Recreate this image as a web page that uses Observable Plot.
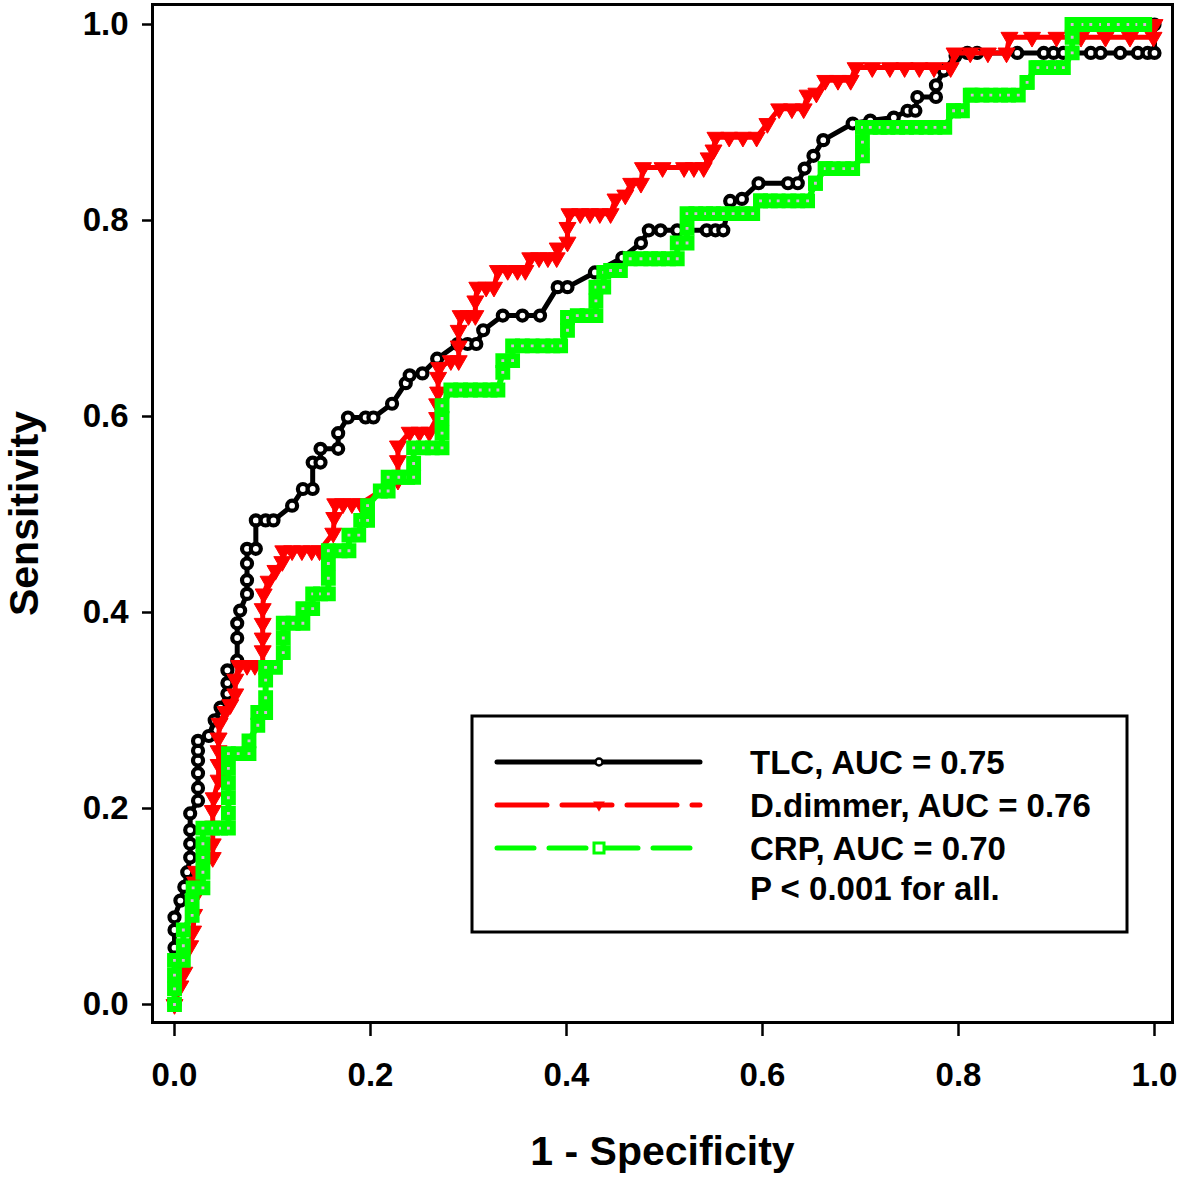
<!DOCTYPE html>
<html><head><meta charset="utf-8">
<script src="https://cdn.jsdelivr.net/npm/d3@7"></script>
<script src="https://cdn.jsdelivr.net/npm/@observablehq/plot@0.6"></script>
<style>
body{margin:0;background:#fff;}
#wrap{position:relative;width:1180px;height:1178px;font-family:"Liberation Sans",Arial,sans-serif;}
#legend{position:absolute;left:0;top:0;}
</style></head><body><div id="wrap"></div>
<script>
// TLC (black, circles)
const tlcFpr = [0,0,0,0,0.006,0.010,0.013,0.016,0.016,0.016,0.016,0.024,0.024,0.024,0.024,0.024,0.024,0.035,0.041,0.047,0.054,0.054,0.054,0.064,0.064,0.064,0.067,0.074,0.074,0.074,0.074,0.083,0.083,0.093,0.101,0.120,0.131,0.141,0.141,0.149,0.149,0.167,0.167,0.177,0.195,0.203,0.222,0.236,0.240,0.253,0.268,0.289,0.299,0.308,0.315,0.335,0.355,0.373,0.391,0.401,0.429,0.457,0.476,0.484,0.496,0.513,0.543,0.552,0.560,0.567,0.579,0.596,0.626,0.636,0.643,0.652,0.662,0.692,0.710,0.734,0.748,0.756,0.758,0.777,0.777,0.785,0.797,0.809,0.819,0.860,0.887,0.897,0.907,0.935,0.945,0.965,0.983,0.993,1.0,1.0];
const tlcSens = [0,0.058,0.076,0.089,0.106,0.120,0.135,0.150,0.164,0.178,0.195,0.208,0.221,0.236,0.249,0.259,0.269,0.274,0.290,0.303,0.317,0.328,0.341,0.351,0.374,0.389,0.402,0.419,0.433,0.450,0.465,0.465,0.494,0.494,0.494,0.509,0.526,0.526,0.553,0.553,0.567,0.567,0.583,0.599,0.599,0.599,0.613,0.634,0.642,0.644,0.659,0.674,0.674,0.674,0.688,0.703,0.703,0.703,0.732,0.732,0.747,0.762,0.777,0.790,0.790,0.790,0.790,0.790,0.790,0.820,0.822,0.838,0.838,0.838,0.853,0.866,0.882,0.899,0.902,0.905,0.912,0.912,0.926,0.926,0.938,0.953,0.968,0.971,0.971,0.971,0.971,0.971,0.971,0.971,0.971,0.971,0.971,0.971,0.971,1.0];

// D.dimmer (red, down triangles)
const ddFpr = [0,0.006,0.010,0.016,0.019,0.020,0.021,0.021,0.022,0.039,0.039,0.039,0.039,0.040,0.045,0.045,0.045,0.045,0.046,0.052,0.057,0.062,0.062,0.066,0.074,0.082,0.090,0.090,0.090,0.090,0.090,0.091,0.096,0.103,0.110,0.111,0.120,0.130,0.140,0.148,0.162,0.163,0.164,0.172,0.181,0.190,0.228,0.228,0.228,0.240,0.250,0.260,0.268,0.268,0.269,0.269,0.270,0.282,0.290,0.290,0.290,0.292,0.300,0.307,0.307,0.309,0.318,0.326,0.330,0.340,0.350,0.358,0.363,0.372,0.381,0.390,0.391,0.401,0.401,0.403,0.414,0.424,0.434,0.445,0.450,0.460,0.466,0.476,0.478,0.498,0.520,0.530,0.540,0.545,0.550,0.552,0.566,0.580,0.594,0.605,0.617,0.630,0.642,0.646,0.655,0.664,0.677,0.690,0.695,0.712,0.730,0.745,0.760,0.775,0.792,0.796,0.812,0.830,0.849,0.852,0.875,0.900,0.925,0.950,0.975,0.999,1.0];
const ddSens = [0,0.019,0.033,0.060,0.075,0.092,0.110,0.125,0.136,0.150,0.164,0.182,0.198,0.211,0.229,0.245,0.259,0.272,0.287,0.299,0.306,0.317,0.332,0.346,0.346,0.346,0.346,0.361,0.374,0.389,0.404,0.419,0.432,0.443,0.452,0.463,0.463,0.463,0.463,0.463,0.481,0.497,0.511,0.511,0.511,0.511,0.535,0.555,0.570,0.584,0.584,0.584,0.599,0.613,0.625,0.640,0.650,0.657,0.657,0.672,0.688,0.703,0.703,0.703,0.718,0.732,0.732,0.732,0.749,0.749,0.749,0.749,0.762,0.762,0.762,0.762,0.772,0.778,0.793,0.807,0.807,0.807,0.807,0.807,0.822,0.826,0.838,0.838,0.854,0.854,0.854,0.854,0.854,0.864,0.872,0.885,0.885,0.885,0.885,0.899,0.914,0.914,0.914,0.928,0.930,0.943,0.943,0.943,0.956,0.956,0.956,0.956,0.956,0.956,0.956,0.971,0.971,0.971,0.971,0.987,0.987,0.987,0.987,0.987,0.987,0.987,1.0];

// CRP (green, squares)
const crpFpr = [0,0,0,0,0.009,0.009,0.009,0.018,0.018,0.019,0.029,0.029,0.029,0.029,0.029,0.039,0.047,0.055,0.055,0.055,0.055,0.055,0.055,0.065,0.076,0.076,0.085,0.085,0.093,0.093,0.093,0.093,0.103,0.111,0.111,0.111,0.121,0.131,0.131,0.141,0.141,0.149,0.157,0.157,0.157,0.157,0.169,0.178,0.178,0.188,0.190,0.197,0.197,0.210,0.218,0.218,0.229,0.238,0.244,0.244,0.244,0.254,0.263,0.273,0.273,0.273,0.273,0.282,0.292,0.302,0.312,0.322,0.330,0.335,0.335,0.345,0.345,0.355,0.365,0.376,0.386,0.394,0.401,0.401,0.411,0.421,0.430,0.430,0.430,0.438,0.438,0.445,0.455,0.465,0.476,0.486,0.494,0.504,0.513,0.513,0.523,0.523,0.523,0.532,0.542,0.550,0.560,0.570,0.580,0.590,0.598,0.598,0.608,0.616,0.627,0.636,0.646,0.654,0.654,0.664,0.664,0.672,0.683,0.692,0.702,0.702,0.702,0.702,0.710,0.720,0.728,0.738,0.747,0.757,0.767,0.776,0.786,0.795,0.795,0.804,0.812,0.814,0.824,0.833,0.843,0.851,0.861,0.870,0.870,0.879,0.881,0.891,0.899,0.907,0.916,0.916,0.916,0.916,0.927,0.935,0.945,0.953,0.963,0.973,0.982,0.990,1.0];
const crpSens = [0,0.016,0.030,0.045,0.045,0.060,0.076,0.091,0.106,0.119,0.119,0.135,0.150,0.164,0.180,0.180,0.180,0.180,0.195,0.211,0.226,0.241,0.256,0.256,0.256,0.269,0.285,0.298,0.298,0.313,0.331,0.344,0.344,0.359,0.374,0.389,0.389,0.389,0.404,0.404,0.419,0.419,0.419,0.435,0.450,0.463,0.463,0.463,0.479,0.479,0.494,0.494,0.509,0.524,0.524,0.538,0.538,0.538,0.538,0.552,0.568,0.568,0.568,0.568,0.583,0.598,0.611,0.627,0.627,0.627,0.627,0.627,0.627,0.645,0.657,0.657,0.672,0.672,0.672,0.672,0.672,0.672,0.688,0.701,0.703,0.703,0.703,0.718,0.732,0.732,0.747,0.749,0.749,0.761,0.761,0.761,0.761,0.761,0.761,0.777,0.777,0.792,0.807,0.807,0.807,0.807,0.807,0.807,0.807,0.807,0.820,0.820,0.820,0.820,0.820,0.820,0.820,0.838,0.838,0.853,0.853,0.853,0.853,0.853,0.866,0.880,0.895,0.895,0.895,0.895,0.895,0.895,0.895,0.895,0.895,0.895,0.895,0.912,0.912,0.912,0.928,0.928,0.928,0.928,0.928,0.928,0.928,0.941,0.941,0.956,0.956,0.956,0.956,0.956,0.971,0.987,1.0,1.0,1.0,1.0,1.0,1.0,1.0,1.0,1.0,1.0];

const xTicks = [0, 0.2, 0.4, 0.6, 0.8, 1.0];
const yTicks = [0, 0.2, 0.4, 0.6, 0.8, 1.0];
const seriesNames = ["TLC", "D.dimmer", "CRP"];
const aucValues = ["0.75", "0.76", "0.70"];
const pNote = "P < 0.001 for all.";
const xTitle = "1 - Specificity";
const yTitle = "Sensitivity";

const zip = (xs, ys) => xs.map((x, i) => ({x, y: ys[i]}));
const tlc = zip(tlcFpr, tlcSens);
const dd = zip(ddFpr, ddSens);
const crp = zip(crpFpr, crpSens);

const FONT = '"Liberation Sans", Arial, sans-serif';
const W = 1180, H = 1178;
const mL = 152, mR = 8, mT = 4, mB = 156;
const pxPerUnit = 980;
const xDom = [-(174 - mL) / pxPerUnit, 1 + (W - mR - 174 - pxPerUnit) / pxPerUnit];
const yDom = [-(1022 - 1004) / pxPerUnit, 1 + (24 - mT) / pxPerUnit];

const plot = Plot.plot({
  width: W, height: H,
  marginLeft: mL, marginRight: mR, marginTop: mT, marginBottom: mB,
  x: {domain: xDom},
  y: {domain: yDom},
  style: {fontFamily: FONT, background: "white"},
  marks: [
    Plot.line(tlc, {x: "x", y: "y", stroke: "black", strokeWidth: 5}),
    Plot.dot(tlc, {x: "x", y: "y", symbol: "circle", r: 5, stroke: "black", strokeWidth: 4.2, fill: "white"}),
    Plot.line(dd, {x: "x", y: "y", stroke: "#ff0000", strokeWidth: 5}),
    Plot.dot(dd, {x: "x", y: "y", symbol: "triangle", rotate: 180, r: 6.3, fill: "#ff0000", stroke: "#ff0000", strokeWidth: 1}),
    Plot.line(crp, {x: "x", y: "y", stroke: "#00ff00", strokeWidth: 6}),
    Plot.dot(crp, {x: "x", y: "y", symbol: "square", r: 5, stroke: "#00ff00", strokeWidth: 6, fill: "#d8b8d8"}),
    Plot.frame({stroke: "black", strokeWidth: 3}),
    Plot.axisX({ticks: xTicks, tickFormat: d3.format(".1f"), tickSize: 14, tickPadding: 26, strokeWidth: 2.5,
      fontSize: 33, fontWeight: "bold", label: xTitle, labelAnchor: "center", labelArrow: "none", labelOffset: 142}),
    Plot.axisY({ticks: yTicks, tickFormat: d3.format(".1f"), tickSize: 10, tickPadding: 14, strokeWidth: 2.5,
      fontSize: 33, fontWeight: "bold", label: yTitle, labelAnchor: "center", labelArrow: "none", labelOffset: 144})
  ]
});
d3.select(plot).selectAll("g[aria-label='x-axis label'] text, g[aria-label='y-axis label'] text")
  .attr("font-size", 41).attr("font-weight", "bold");

const wrap = document.getElementById("wrap");
wrap.appendChild(plot);

// legend overlay
const lg = d3.select(wrap).append("svg").attr("id", "legend").attr("width", W).attr("height", H)
  .style("pointer-events", "none").attr("font-family", FONT);
lg.append("rect").attr("x", 472).attr("y", 716).attr("width", 655).attr("height", 216)
  .attr("fill", "white").attr("stroke", "black").attr("stroke-width", 3);
const styles = [
  {stroke: "black", width: 5, dash: null},
  {stroke: "#ff0000", width: 5, dash: "50,15"},
  {stroke: "#00ff00", width: 5, dash: "37,15"}
];
const rowY = [762, 805, 848];
styles.forEach((s, i) => {
  const l = lg.append("line").attr("x1", 497).attr("x2", 700).attr("y1", rowY[i]).attr("y2", rowY[i])
    .attr("stroke", s.stroke).attr("stroke-width", s.width).attr("stroke-linecap", "round");
  if (s.dash) l.attr("stroke-dasharray", s.dash);
});
lg.append("circle").attr("cx", 599).attr("cy", rowY[0]).attr("r", 3.5).attr("fill", "white").attr("stroke", "black").attr("stroke-width", 2.5);
lg.append("path").attr("d", d3.symbol(d3.symbolTriangle, 60)()).attr("transform", `translate(599,${rowY[1]}) rotate(180)`).attr("fill", "#ff0000");
lg.append("rect").attr("x", 594).attr("y", rowY[2] - 5).attr("width", 10).attr("height", 10).attr("fill", "white").attr("stroke", "#00ff00").attr("stroke-width", 3);
seriesNames.forEach((n, i) => {
  lg.append("text").attr("x", 750).attr("y", rowY[i] + 12).attr("font-size", 33).attr("font-weight", "bold")
    .text(`${n}, AUC = ${aucValues[i]}`);
});
lg.append("text").attr("x", 750).attr("y", 888 + 12).attr("font-size", 33).attr("font-weight", "bold").text(pNote);
</script>
</body></html>
